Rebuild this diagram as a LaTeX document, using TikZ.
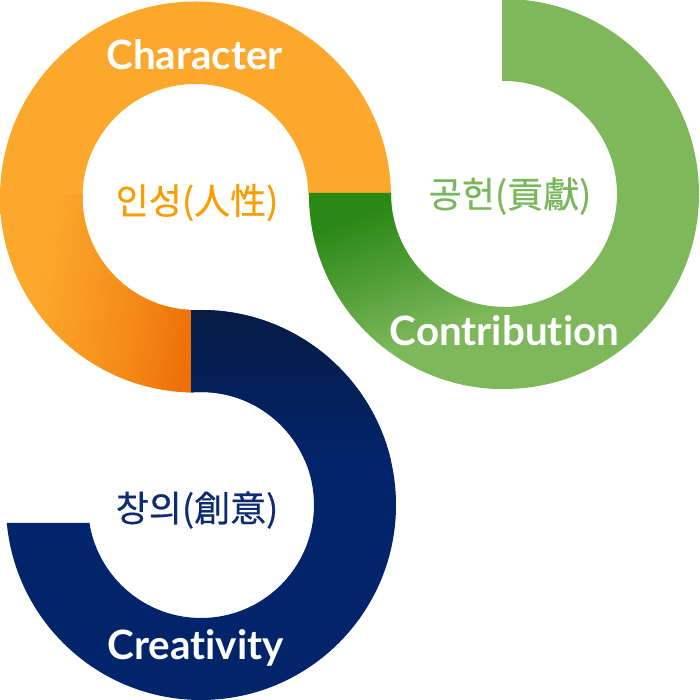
\documentclass[tikz,border=0pt]{standalone}
\usepackage{fontspec}
\setmainfont{Lato}[Ligatures=NoCommon]
\newfontfamily\krfont{Noto Sans CJK KR}[FakeBold=0.5]
\usepackage{tikz}
\usetikzlibrary{positioning}
\definecolor{ringorange}{HTML}{FCA82C}
\definecolor{ringorangedark}{HTML}{EC6A04}
\colorlet{ringorangemid}{ringorange!50!ringorangedark}
\definecolor{ringgreen}{HTML}{7EB85B}
\definecolor{ringgreendark}{HTML}{2A8816}
\colorlet{ringgreenmid}{ringgreen!50!ringgreendark}
\definecolor{ringnavy}{HTML}{02246A}
\definecolor{ringnavydark}{HTML}{071B45}
\definecolor{orangetext}{HTML}{F99D00}
\definecolor{greentext}{HTML}{7AB65B}
\definecolor{navytext}{HTML}{0E2B6E}
\pgfdeclarehorizontalshading{orangeend}{100bp}{color(0bp)=(ringorange); color(32.3bp)=(ringorange); color(45bp)=(ringorangemid); color(54.1bp)=(ringorangedark); color(100bp)=(ringorangedark)}
\pgfdeclarehorizontalshading{greenend}{100bp}{color(0bp)=(ringgreendark); color(46.1bp)=(ringgreendark); color(55.3bp)=(ringgreenmid); color(63.6bp)=(ringgreen); color(100bp)=(ringgreen)}
\tikzset{
  enlabel/.style={text=white,font=\bfseries\fontsize{23}{27}\selectfont,inner sep=0pt,anchor=base},
  kolabel/.style={font=\krfont\fontsize{20.5}{24}\selectfont,inner sep=0pt},
  ring/.style={even odd rule}
}

\begin{document}
\begin{tikzpicture}[x=0.02cm,y=0.02cm]
    \useasboundingbox (0,0) rectangle (700,700);

    % Character ring
    \begin{scope}[ring]
      \clip (-10,-10) -- (191,-10) -- (191,505) -- (710,505) -- (710,710) -- (-10,710) -- cycle;
      \fill[ringorange] (195.5,503) circle (195.5) (195.5,503) circle (113);
      \clip (195.5,503) circle (195.5) (195.5,503) circle (113);
      \clip (-10,290) rectangle (191,505);
      \shade[shading=orangeend,shading angle=-10] (-4.5,303) rectangle (395.5,703);
    \end{scope}

    % Contribution ring
    \begin{scope}[ring]
      \clip (-10,-10) -- (710,-10) -- (710,710) -- (502,710) -- (502,507) -- (-10,507) -- cycle;
      \fill[ringgreen] (504,506) circle (195) (504,506) circle (113);
      \clip (504,506) circle (195) (504,506) circle (113);
      \clip (300,300) rectangle (504,510);
      \shade[shading=greenend,shading angle=-70] (304,306) rectangle (704,706);
    \end{scope}

    % Creativity ring
    \begin{scope}[ring]
      \clip (-10,-10) -- (710,-10) -- (710,710) -- (191,710) -- (191,177) -- (-10,177) -- cycle;
      \fill[ringnavy] (201,195) circle (195) (201,195) circle (113);
      \clip (201,195) circle (195) (201,195) circle (113);
      \shade[top color=ringnavydark,bottom color=ringnavy] (191,240) rectangle (400,392);
    \end{scope}

    \node[enlabel] (charen) at (194.5,630) {Character};
    \node[enlabel] (contren) at (504.5,354) {Contribution};
    \node[enlabel] (creaen) at (195.5,40) {Creativity};

    \node[kolabel,text=orangetext] (charko) at (197,497.5) {인성(人性)};
    \node[kolabel,text=greentext] (contrko) at (510,504) {공헌(貢獻)};
    \node[kolabel,text=navytext] (creako) at (197,190) {창의(創意)};
  \end{tikzpicture}
\end{document}
